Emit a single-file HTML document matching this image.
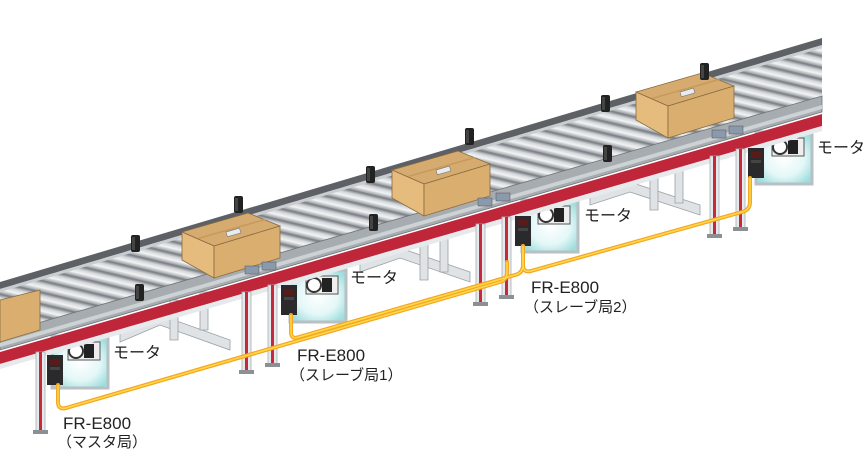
<!DOCTYPE html>
<html><head><meta charset="utf-8"><style>
html,body{margin:0;padding:0;background:#fff;}
svg{display:block}
text{font-family:"Liberation Sans","Noto Sans CJK JP",sans-serif;fill:#222}
</style></head><body>
<svg width="864" height="450" viewBox="0 0 864 450" xmlns="http://www.w3.org/2000/svg">
<defs>
<linearGradient id="rg" x1="0" y1="0" x2="1" y2="0">
<stop offset="0" stop-color="#9a9ea3"/><stop offset="0.4" stop-color="#f2f4f5"/><stop offset="0.75" stop-color="#d2d6d9"/><stop offset="1" stop-color="#8e9297"/>
</linearGradient>
<pattern id="rollers" patternUnits="userSpaceOnUse" width="22" height="200" patternTransform="matrix(1 -0.295 4.17 1 0 0)">
<rect width="22" height="200" fill="#80858a"/>
<rect x="1.5" width="19" height="200" fill="url(#rg)"/>
</pattern>
<radialGradient id="glow" cx="0.5" cy="0.5" r="0.6">
<stop offset="0" stop-color="#ffffff"/><stop offset="0.6" stop-color="#e4f7f7"/><stop offset="1" stop-color="#9fdede"/>
</radialGradient>
<g id="inv">
<rect x="0" y="0" width="16" height="30" fill="#2a2a2c"/>
<rect x="3" y="4" width="10" height="6" fill="#5a1a1a"/>
<rect x="3" y="12" width="10" height="3" fill="#444"/>
</g>
<g id="mbox">
<rect x="0" y="0" width="56" height="52" fill="url(#glow)" stroke="#b9bfc2" stroke-width="3"/>
<rect x="16" y="6" width="32" height="18" fill="#eee" stroke="#555" stroke-width="1"/>
<circle cx="24" cy="15" r="7" fill="#fff" stroke="#333" stroke-width="2"/>
<rect x="32" y="8" width="10" height="14" fill="#222"/>
</g>
<g id="sensor"><rect x="0" y="0" width="9" height="17" rx="2" fill="#222"/><rect x="1" y="2" width="3" height="13" fill="#444"/></g>
<g id="box">
<polygon points="0,0 66,-19 98,-6 32,14" fill="#d6ab70" stroke="#8a6a3e" stroke-width="0.8"/>
<polygon points="0,0 32,14 32,46 0,28" fill="#e5bb7e" stroke="#8a6a3e" stroke-width="0.8"/>
<polygon points="32,14 98,-6 98,26 32,46" fill="#d9ae6f" stroke="#8a6a3e" stroke-width="0.8"/>
<polygon points="15,6 82,-13 84,-12 17,7" fill="#c79a5c"/>
<rect x="44" y="0" width="14" height="5" fill="#e8ecee" stroke="#777" stroke-width="0.6" transform="rotate(-16 44 0)"/>
</g>
<g id="leg"><rect x="0" y="0" width="9" height="80" fill="#e6e9eb" stroke="#a8aeb2" stroke-width="0.8"/><rect x="3" y="0" width="3" height="80" fill="#c8283c"/><rect x="-3" y="78" width="15" height="4" fill="#8b9094"/></g>
</defs>

<g fill="#dfe3e5" stroke="#9aa0a4" stroke-width="0.8">
<polygon points="120,332 160,315 230,340 230,350 160,325 120,342"/>
<polygon points="170,300 178,300 178,340 170,340"/>
<polygon points="200,292 208,292 208,330 200,330"/>
<polygon points="360,262 400,248 470,272 470,282 400,258 360,272"/>
<polygon points="420,240 428,240 428,280 420,280"/>
<polygon points="440,232 448,232 448,272 440,272"/>
<polygon points="590,195 630,182 700,205 700,215 630,192 590,205"/>
<polygon points="650,172 658,172 658,210 650,210"/>
<polygon points="675,165 683,165 683,203 675,203"/>
</g>

<use href="#mbox" x="52" y="336"/>
<use href="#mbox" x="290" y="270"/>
<use href="#mbox" x="522" y="200"/>
<use href="#mbox" x="756" y="132"/>

<polygon points="0,286 822,42 822,108 0,348" fill="url(#rollers)"/>
<polygon points="0,282 822,38 822,45 0,289" fill="#5d6166"/>
<polygon points="0,289 822,45 822,48 0,292" fill="#c9cdd0"/>
<polygon points="0,334 822,96 822,112 0,350" fill="#a6acb0" stroke="#6e7377" stroke-width="0.8"/>
<polygon points="0,343 822,105 822,109 0,347" fill="#cdd2d5"/>
<polygon points="0,352 822,114 822,126 0,364" fill="#c0263a"/>
<polygon points="0,364 822,126 822,131 0,369" fill="#e7eaec"/>

<use href="#leg" x="36" y="352"/>
<use href="#leg" x="242" y="292"/>
<use href="#leg" x="268" y="285"/>
<use href="#leg" x="476" y="224"/>
<use href="#leg" x="502" y="217"/>
<use href="#leg" x="710" y="156"/>
<use href="#leg" x="736" y="149"/>

<polygon points="0,300 40,290 40,330 0,342" fill="#d9ae6f" stroke="#8a6a3e" stroke-width="0.8"/>
<use href="#box" x="182" y="232"/>
<use href="#box" x="392" y="170"/>
<use href="#box" x="636" y="92"/>

<g fill="#8a9aac" stroke="#555" stroke-width="0.5">
<rect x="245" y="266" width="14" height="8"/><rect x="262" y="262" width="14" height="8"/>
<rect x="478" y="198" width="14" height="8"/><rect x="496" y="193" width="14" height="8"/>
<rect x="712" y="130" width="14" height="8"/><rect x="729" y="126" width="14" height="8"/>
</g>

<use href="#sensor" x="131" y="235"/>
<use href="#sensor" x="234" y="196"/>
<use href="#sensor" x="366" y="166"/>
<use href="#sensor" x="465" y="128"/>
<use href="#sensor" x="601" y="95"/>
<use href="#sensor" x="700" y="63"/>
<use href="#sensor" x="135" y="284"/>
<use href="#sensor" x="369" y="214"/>
<use href="#sensor" x="603" y="145"/>

<use href="#inv" x="47" y="355"/>
<use href="#inv" x="281" y="285"/>
<use href="#inv" x="515" y="216"/>
<use href="#inv" x="748" y="148"/>

<g fill="none" stroke="#f5a623" stroke-width="4" stroke-linejoin="round" stroke-linecap="round">
<path d="M58 385 L58 402 Q58 410 66 408 L500 282 Q507 280 507 272 L507 262"/>
<path d="M291 315 L291 332 Q291 340 299 337 L515 275 Q523 273 523 265 L523 246"/>
<path d="M523 246 L523 265 Q523 273 531 271 L742 212 Q750 210 750 202 L750 178"/>
</g>
<g fill="none" stroke="#ffd94a" stroke-width="1.5">
<path d="M58 385 L58 402 Q58 410 66 408 L500 282 Q507 280 507 272 L507 262"/>
<path d="M291 315 L291 332 Q291 340 299 337 L515 275 Q523 273 523 265 L523 246"/>
<path d="M523 246 L523 265 Q523 273 531 271 L742 212 Q750 210 750 202 L750 178"/>
</g>

<text x="113" y="358" font-size="16">モータ</text>
<text x="350" y="283" font-size="16">モータ</text>
<text x="584" y="221" font-size="16">モータ</text>
<text x="817" y="153" font-size="16">モータ</text>
<text x="63" y="429" font-size="17">FR-E800</text>
<text x="57" y="447" font-size="15">（マスタ局）</text>
<text x="297" y="361" font-size="17">FR-E800</text>
<text x="290" y="380" font-size="15">（スレーブ局1）</text>
<text x="531" y="293" font-size="17">FR-E800</text>
<text x="524" y="312" font-size="15">（スレーブ局2）</text>
</svg>
</body></html>
